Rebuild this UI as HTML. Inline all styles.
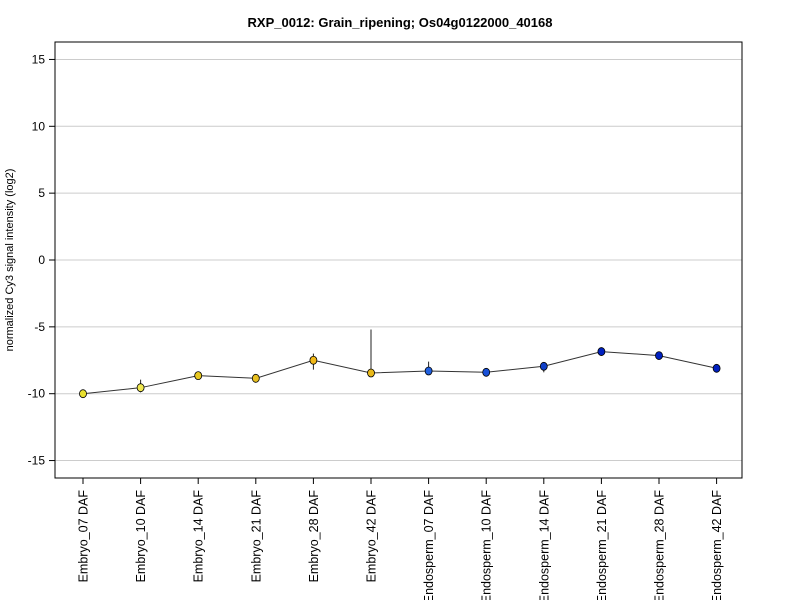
<!DOCTYPE html>
<html><head><meta charset="utf-8"><style>body{margin:0;background:#fff}svg{display:block;font-family:"Liberation Sans",Arial,sans-serif}</style></head>
<body>
<svg id="chart" width="800" height="600">
<text x="400" y="27" text-anchor="middle" font-size="13" font-weight="bold">RXP_0012: Grain_ripening; Os04g0122000_40168</text>
<text transform="translate(13,260) rotate(-90)" text-anchor="middle" font-size="11">normalized Cy3 signal intensity (log2)</text>
<g id="grid"></g><g id="yaxis"></g><g id="xaxis"></g><g id="marks"></g>
<rect x="55" y="42" width="687" height="436" fill="none" stroke="#000"/>
</svg>
<script>
const categories=["Embryo_07 DAF","Embryo_10 DAF","Embryo_14 DAF","Embryo_21 DAF","Embryo_28 DAF","Embryo_42 DAF","Endosperm_07 DAF","Endosperm_10 DAF","Endosperm_14 DAF","Endosperm_21 DAF","Endosperm_28 DAF","Endosperm_42 DAF"];
const values=[-10.0,-9.55,-8.65,-8.85,-7.5,-8.45,-8.3,-8.4,-7.95,-6.85,-7.15,-8.1];
const errUpper=[-10.0,-8.95,-8.65,-8.85,-7.0,-5.2,-7.6,-8.15,-7.75,-6.85,-6.9,-8.1];
const errLower=[-10.0,-9.9,-8.65,-8.85,-8.2,-8.5,-8.6,-8.6,-8.4,-6.85,-7.45,-8.1];
const colors=["#e8e030","#f0e850","#e8c820","#e8c020","#f0b818","#e8b818","#2060e0","#1850d8","#1040c8","#0020c0","#0020c0","#0020c0"];
const yTicks=[-15,-10,-5,0,5,10,15];
const NS="http://www.w3.org/2000/svg";
const y=v=>260-13.37*v;
const x=i=>83+i*57.6;
function mk(tag,attrs,parent,text){const e=document.createElementNS(NS,tag);for(const k in attrs)e.setAttribute(k,attrs[k]);if(text!==undefined)e.textContent=text;document.getElementById(parent).appendChild(e);return e;}
yTicks.forEach(t=>{
 const g=mk("line",{x1:55,x2:742,y1:y(t),y2:y(t),stroke:"#ccc"},"grid");
 
 
 const tk=mk("line",{x1:49,x2:55,y1:y(t),y2:y(t),stroke:"#000"},"yaxis");
 
 
 const l=mk("text",{x:45,y:y(t)+4,"text-anchor":"end","font-size":"12"},"yaxis",String(t));
 
 
});
categories.forEach((c,i)=>{
 const tk=mk("line",{x1:x(i),x2:x(i),y1:478,y2:484,stroke:"#000"},"xaxis");
 
 
 const l=mk("text",{transform:`translate(${x(i)+4.5},490) rotate(-90)`,"text-anchor":"end","font-size":"12.5"},"xaxis",c);
 
 
});
const pl=mk("polyline",{points:values.map((v,i)=>x(i)+","+y(v)).join(" "),fill:"none",stroke:"#333","stroke-width":1},"marks");


values.forEach((v,i)=>{
 const eb=mk("line",{x1:x(i),x2:x(i),y1:y(errUpper[i]),y2:y(errLower[i]),stroke:"#222"},"marks");
 
 
 const p=mk("ellipse",{cx:x(i),cy:y(v),rx:3.5,ry:4,fill:colors[i],stroke:"#000","stroke-width":0.8},"marks");
 
 
});
</script>
</body></html>
